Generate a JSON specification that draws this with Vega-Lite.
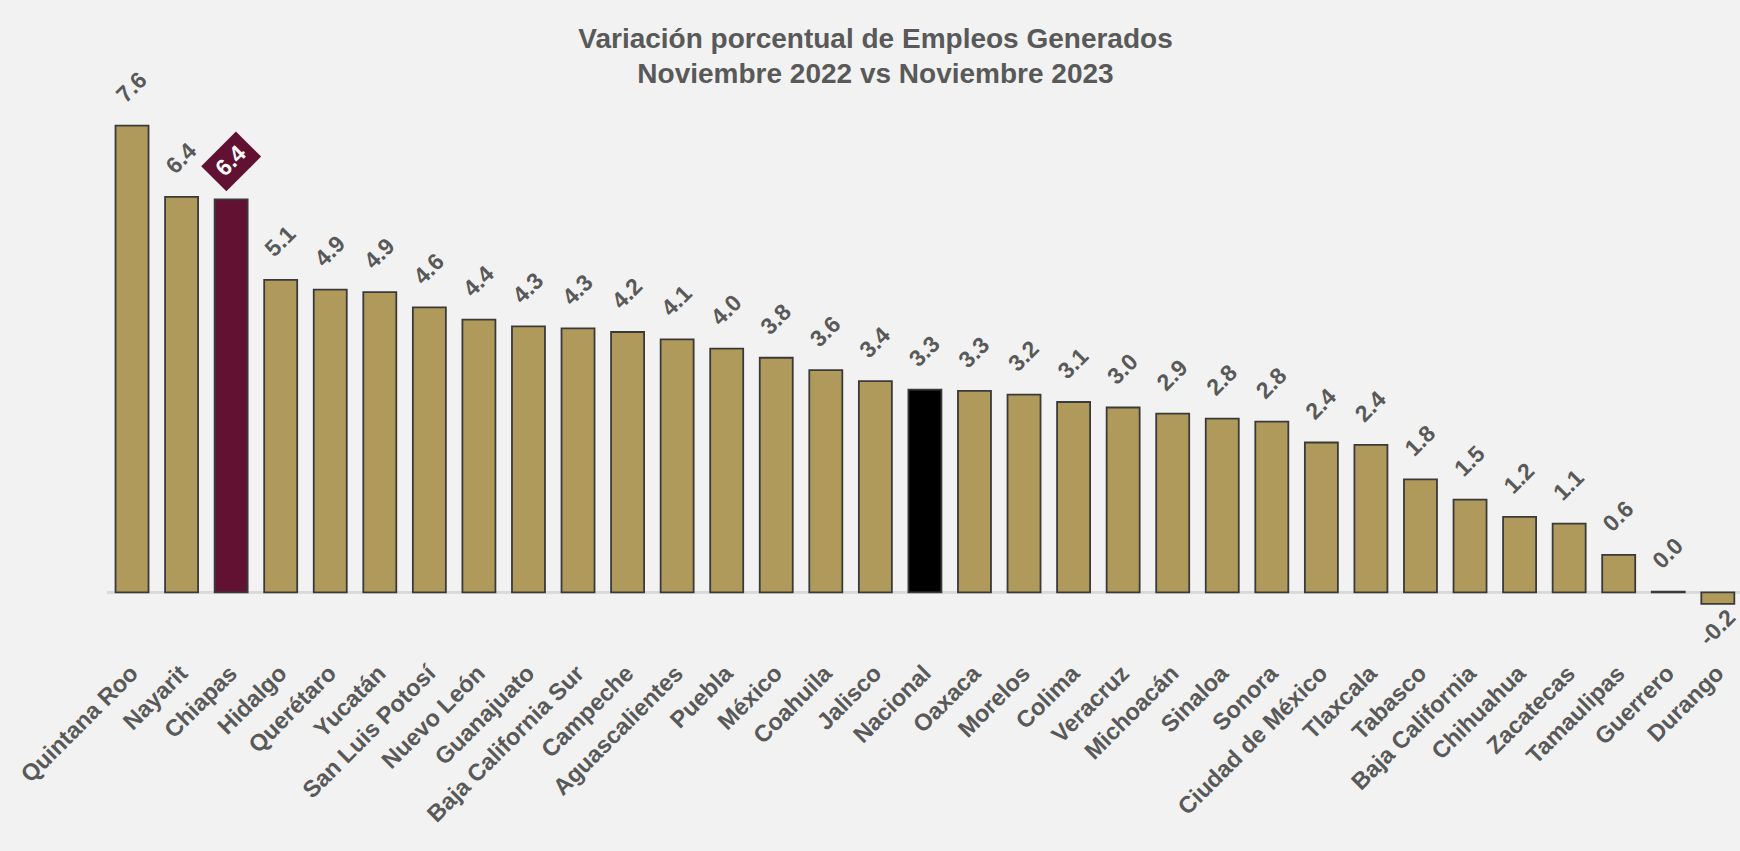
{
  "$schema": "https://vega.github.io/schema/vega-lite/v6.json",
  "width": 1633,
  "height": 528,
  "autosize": {"type": "none"},
  "padding": {"left": 107, "top": 95, "right": 0, "bottom": 228},
  "background": "#f2f2f2",
  "config": {"view": {"stroke": null}, "font": "Liberation Sans"},
  "title": {
    "text": ["Variación porcentual de Empleos Generados", "Noviembre 2022 vs Noviembre 2023"],
    "fontSize": 28,
    "fontWeight": "bold",
    "color": "#595959",
    "font": "Liberation Sans",
    "lineHeight": 35,
    "anchor": "middle",
    "dx": -48,
    "offset": -20
  },
  "data": {
    "values": [
      {"estado": "Quintana Roo", "valor": 7.6, "tipo": "Estado"},
      {"estado": "Nayarit", "valor": 6.44, "tipo": "Estado"},
      {"estado": "Chiapas", "valor": 6.4, "tipo": "Chiapas"},
      {"estado": "Hidalgo", "valor": 5.09, "tipo": "Estado"},
      {"estado": "Querétaro", "valor": 4.93, "tipo": "Estado"},
      {"estado": "Yucatán", "valor": 4.89, "tipo": "Estado"},
      {"estado": "San Luis Potosí", "valor": 4.64, "tipo": "Estado"},
      {"estado": "Nuevo León", "valor": 4.44, "tipo": "Estado"},
      {"estado": "Guanajuato", "valor": 4.33, "tipo": "Estado"},
      {"estado": "Baja California Sur", "valor": 4.3, "tipo": "Estado"},
      {"estado": "Campeche", "valor": 4.24, "tipo": "Estado"},
      {"estado": "Aguascalientes", "valor": 4.12, "tipo": "Estado"},
      {"estado": "Puebla", "valor": 3.97, "tipo": "Estado"},
      {"estado": "México", "valor": 3.82, "tipo": "Estado"},
      {"estado": "Coahuila", "valor": 3.62, "tipo": "Estado"},
      {"estado": "Jalisco", "valor": 3.44, "tipo": "Estado"},
      {"estado": "Nacional", "valor": 3.3, "tipo": "Nacional"},
      {"estado": "Oaxaca", "valor": 3.28, "tipo": "Estado"},
      {"estado": "Morelos", "valor": 3.22, "tipo": "Estado"},
      {"estado": "Colima", "valor": 3.1, "tipo": "Estado"},
      {"estado": "Veracruz", "valor": 3.01, "tipo": "Estado"},
      {"estado": "Michoacán", "valor": 2.91, "tipo": "Estado"},
      {"estado": "Sinaloa", "valor": 2.83, "tipo": "Estado"},
      {"estado": "Sonora", "valor": 2.78, "tipo": "Estado"},
      {"estado": "Ciudad de México", "valor": 2.44, "tipo": "Estado"},
      {"estado": "Tlaxcala", "valor": 2.4, "tipo": "Estado"},
      {"estado": "Tabasco", "valor": 1.84, "tipo": "Estado"},
      {"estado": "Baja California", "valor": 1.51, "tipo": "Estado"},
      {"estado": "Chihuahua", "valor": 1.23, "tipo": "Estado"},
      {"estado": "Zacatecas", "valor": 1.12, "tipo": "Estado"},
      {"estado": "Tamaulipas", "valor": 0.61, "tipo": "Estado"},
      {"estado": "Guerrero", "valor": 0.01, "tipo": "Estado"},
      {"estado": "Durango", "valor": -0.19, "tipo": "Estado"}
    ]
  },
  "transform": [
    {"calculate": "replace(format(datum.valor, '.1f'), '\u2212', '-')", "as": "etiqueta"}
  ],
  "layer": [
    {
      "mark": {"type": "rule", "color": "#d9d9d9", "strokeWidth": 2},
      "encoding": {
        "y": {"datum": 0, "type": "quantitative", "scale": {"domain": [-0.5, 8.1], "nice": false, "zero": false}, "axis": null}
      }
    },
    {
      "mark": {"type": "bar", "stroke": "#3a3a3a", "strokeWidth": 1.8},
      "encoding": {
        "x": {
          "field": "estado", "type": "nominal", "sort": null,
          "scale": {"paddingInner": 0.334, "paddingOuter": 0.1433, "align": 0.6},
          "axis": {
            "title": null, "labelAngle": -45, "labelAlign": "right", "labelBaseline": "top",
            "labelFontSize": 23.5, "labelFontWeight": "bold", "labelColor": "#595959",
            "labelFont": "Liberation Sans", "labelPadding": 38, "labelOffset": -6, "labelLimit": 0,
            "ticks": false, "tickSize": 0, "domain": false, "grid": false, "labelOverlap": false
          }
        },
        "y": {"field": "valor", "type": "quantitative", "scale": {"domain": [-0.5, 8.1], "nice": false, "zero": false}, "axis": null},
        "color": {
          "field": "tipo", "type": "nominal", "legend": null,
          "scale": {"domain": ["Estado", "Chiapas", "Nacional"], "range": ["#b09a5b", "#611232", "#000000"]}
        }
      }
    },
    {
      "transform": [{"filter": "datum.valor >= 0 && datum.tipo != 'Chiapas'"}],
      "mark": {"type": "text", "angle": -45, "align": "center", "baseline": "middle", "yOffset": -38, "fontSize": 23, "fontWeight": "bold", "color": "#595959", "font": "Liberation Sans"},
      "encoding": {
        "x": {"field": "estado", "type": "nominal", "sort": null},
        "y": {"field": "valor", "type": "quantitative"},
        "text": {"field": "etiqueta", "type": "nominal"}
      }
    },
    {
      "transform": [{"filter": "datum.valor < 0"}],
      "mark": {"type": "text", "angle": -45, "align": "center", "baseline": "middle", "yOffset": 24, "fontSize": 23, "fontWeight": "bold", "color": "#595959", "font": "Liberation Sans"},
      "encoding": {
        "x": {"field": "estado", "type": "nominal", "sort": null},
        "y": {"field": "valor", "type": "quantitative"},
        "text": {"field": "etiqueta", "type": "nominal"}
      }
    },
    {
      "transform": [{"filter": "datum.tipo == 'Chiapas'"}],
      "mark": {"type": "point", "shape": "M-1.38,-1L1.38,-1L1.38,1L-1.38,1Z", "size": 1267, "angle": -45, "filled": true, "color": "#611232", "opacity": 1, "strokeWidth": 0, "yOffset": -38},
      "encoding": {
        "x": {"field": "estado", "type": "nominal", "sort": null},
        "y": {"field": "valor", "type": "quantitative"}
      }
    },
    {
      "transform": [{"filter": "datum.tipo == 'Chiapas'"}],
      "mark": {"type": "text", "angle": -45, "align": "center", "baseline": "middle", "yOffset": -38, "fontSize": 23, "fontWeight": "bold", "color": "#ffffff", "font": "Liberation Sans"},
      "encoding": {
        "x": {"field": "estado", "type": "nominal", "sort": null},
        "y": {"field": "valor", "type": "quantitative"},
        "text": {"field": "etiqueta", "type": "nominal"}
      }
    }
  ]
}
